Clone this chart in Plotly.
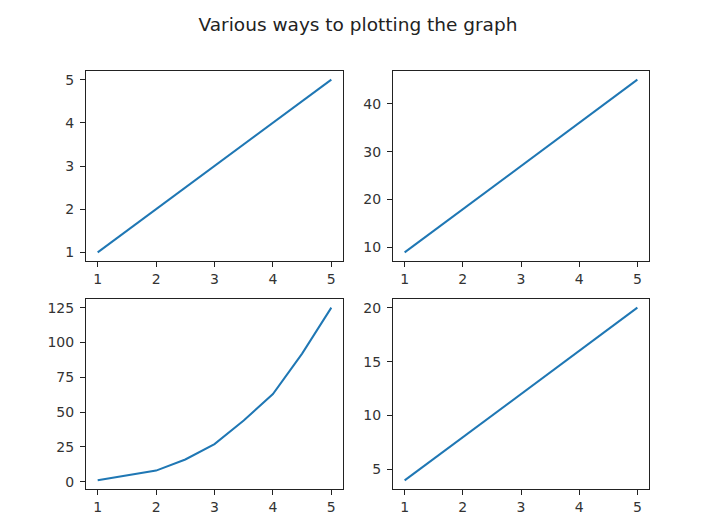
import plotly.graph_objects as go
from plotly.subplots import make_subplots

# values
x_lin = [1, 2, 3, 4, 5]
y_top_left = [1, 2, 3, 4, 5]
y_top_right = [9, 18, 27, 36, 45]
y_bottom_right = [4, 8, 12, 16, 20]

x_cube = [1, 2, 2.5, 3, 3.5, 4, 4.5, 5]
y_cube = [1, 8, 16, 27, 44, 63, 92, 125]

x_ticks = [1, 2, 3, 4, 5]
title = "Various ways to plotting the graph"

# page is 720x532, body margin of 8px shifts the figure
OFF = 8
W, H = 720 - OFF, 532 - OFF
LINE = '#1f77b4'

fig = make_subplots(rows=2, cols=2)

fig.add_trace(go.Scatter(x=x_lin, y=y_top_left, mode='lines',
                         line=dict(color=LINE, width=2)), row=1, col=1)
fig.add_trace(go.Scatter(x=x_lin, y=y_top_right, mode='lines',
                         line=dict(color=LINE, width=2)), row=1, col=2)
fig.add_trace(go.Scatter(x=x_cube, y=y_cube, mode='lines',
                         line=dict(color=LINE, width=2)), row=2, col=1)
fig.add_trace(go.Scatter(x=x_lin, y=y_bottom_right, mode='lines',
                         line=dict(color=LINE, width=2)), row=2, col=2)


def px_x(p):
    return (p - OFF) / W


def px_y(p):
    return (532 - p) / H


# axes boxes measured in page pixels on the reference
xdom = [[px_x(86), px_x(343)], [px_x(393), px_x(649)]]
ydom = [[px_y(261), px_y(71)], [px_y(489), px_y(299)]]


def pad(lo, hi):
    d = (hi - lo) * 0.05
    return [lo - d, hi + d]


yranges = {
    (1, 1): pad(1, 5), (1, 2): pad(9, 45),
    (2, 1): pad(1, 125), (2, 2): pad(4, 20),
}
ytickvals = {
    (1, 1): [1, 2, 3, 4, 5], (1, 2): [10, 20, 30, 40],
    (2, 1): [0, 25, 50, 75, 100, 125], (2, 2): [5, 10, 15, 20],
}

axis_style = dict(showline=True, mirror=True, linecolor='#222', linewidth=1,
                  ticks='outside', ticklen=5, tickcolor='#222', tickwidth=1,
                  showgrid=False, zeroline=False,
                  tickfont=dict(family='DejaVu Sans', size=14, color='#333'))

for r in (1, 2):
    for c in (1, 2):
        fig.update_xaxes(domain=xdom[c - 1], range=pad(1, 5),
                         tickmode='array', tickvals=x_ticks,
                         row=r, col=c, **axis_style)
        fig.update_yaxes(domain=ydom[r - 1], range=yranges[(r, c)],
                         tickmode='array', tickvals=ytickvals[(r, c)],
                         ticklabelstandoff=3,
                         row=r, col=c, **axis_style)

fig.update_layout(
    width=W, height=H,
    margin=dict(l=0, r=0, t=0, b=0),
    paper_bgcolor='white', plot_bgcolor='white',
    showlegend=False,
    title=dict(text=title, x=px_x(358), xanchor='center', y=px_y(25),
               yref='container', yanchor='middle',
               font=dict(family='DejaVu Sans', size=18.5, color='#222')),
)

fig.write_html("out.html")
